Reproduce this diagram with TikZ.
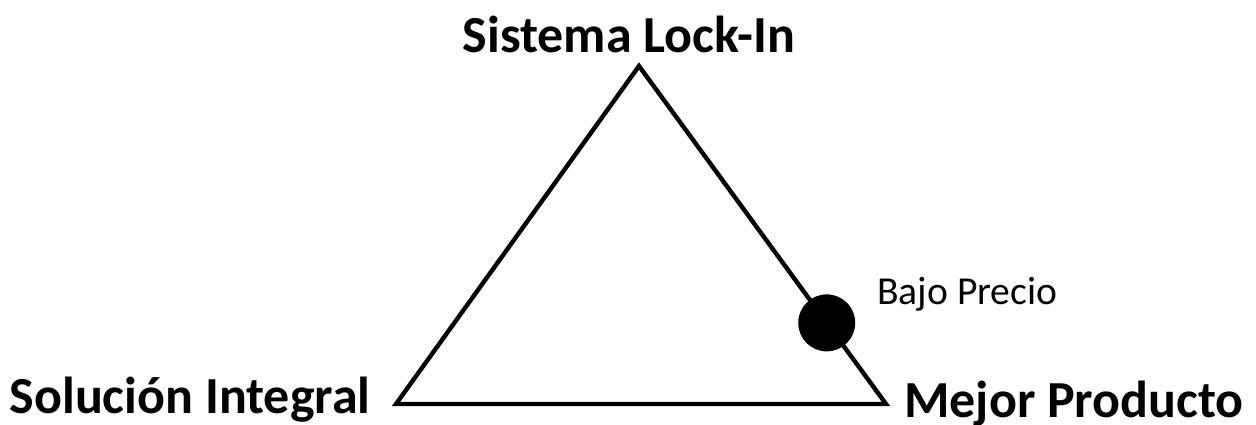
\documentclass[tikz,border=0pt]{standalone}
\usepackage{fontspec}
\setmainfont{Carlito}
\usetikzlibrary{positioning,calc}

\begin{document}
\begin{tikzpicture}[x=0.5pt,y=-0.5pt,
  vlbl/.style={font=\bfseries\fontsize{26}{30}\selectfont, inner sep=0pt, anchor=base},
  plbl/.style={font=\fontsize{19.8}{22}\selectfont, inner sep=0pt, anchor=base west},
  edge/.style={line width=2.2pt, line join=miter},
  dot/.style={circle, fill=black, minimum size=28.5pt, inner sep=0pt},
]
\useasboundingbox (0,0) rectangle (1256,424);
% corners of the triangle
\coordinate (top) at (639,66);
\coordinate (bl) at (396,404);
\coordinate (br) at (886,404);
\draw[edge] (top) -- (br) -- (bl) -- cycle;
% vertex labels
\node[vlbl] (lockin) at (629,52) {Sistema Lock-In};
\node[vlbl] (integral) at (190,413) {Solución Integral};
\node[vlbl] (producto) at (1074,417) {Mejor Producto};
% position on the edge
\node[dot] (precio) at ($(top)!0.76!(br)$) {};
\node[plbl] (preciolbl) at (877,304) {Bajo Precio};
\end{tikzpicture}
\end{document}
